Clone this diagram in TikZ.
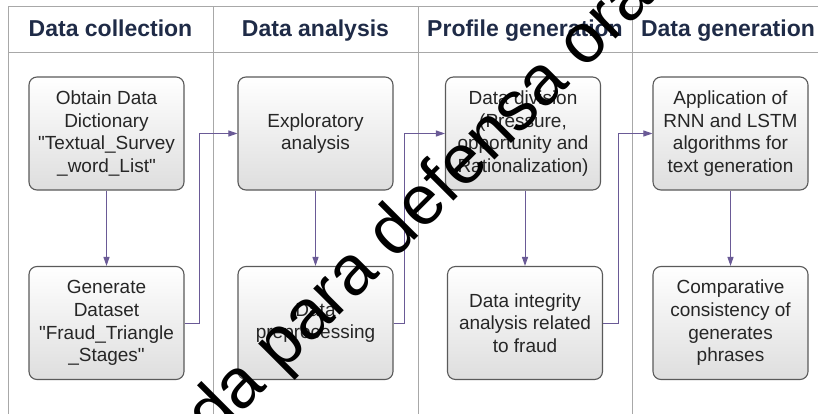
\documentclass[tikz,border=0pt]{standalone}
\usepackage{fontspec}
\setmainfont{Liberation Sans}
\usetikzlibrary{arrows.meta}
\definecolor{gridgray}{HTML}{A8A8A8}
\definecolor{headnavy}{HTML}{1F2B47}
\definecolor{flowpurple}{HTML}{6A5A96}
\definecolor{boxedge}{HTML}{5A5A5A}
\newcommand{\dq}{\textquotedbl}
\tikzset{
  lane/.style={draw=gridgray, line width=1pt},
  head/.style={font=\bfseries\fontsize{23}{26}\selectfont, text=headnavy,
    anchor=base, inner sep=0pt},
  stepbox/.style={draw=boxedge, line width=1.1pt, rounded corners=8pt,
    top color=white, bottom color=black!13, minimum width=155pt,
    minimum height=113pt, align=center, text=black!85,
    font=\fontsize{19}{22.7}\selectfont, inner sep=0pt},
  flow/.style={draw=flowpurple, line width=1pt,
    -{Triangle[length=9pt,width=6pt]}},
  link/.style={draw=flowpurple, line width=1pt,
    -{Triangle[length=9pt,width=6pt]}}
}
\begin{document}
\begin{tikzpicture}[x=1pt,y=-1pt]
\useasboundingbox (0,0) rectangle (818,414);
\fill[white] (0,0) rectangle (818,414);

% swimlane grid
\draw[lane] (8,7) -- (830,7);
\draw[lane] (8,53) -- (830,53);
\foreach \lx in {8,213,418,632}
  \draw[lane] (\lx,7) -- (\lx,420);

% lane titles
\node[head] (h1) at (110.5,37) {Data collection};
\node[head] (h2) at (315.5,37) {Data analysis};
\node[head] (h3) at (525,37) {Profile generation};
\node[head] (h4) at (728,37) {Data generation};

% process steps
\node[stepbox] (obtain) at (106.5,133.5) {Obtain Data\\Dictionary\\\dq Textual\_Survey\\\_word\_List\dq};
\node[stepbox] (generate) at (106.5,323) {Generate\\Dataset\\\dq Fraud\_Triangle\\\_Stages\dq};
\node[stepbox] (explore) at (315.5,133.5) {Exploratory\\analysis};
\node[stepbox] (prep) at (315.5,323) {Data\\preprocessing};
\node[stepbox] (division) at (523,133.5) {Data division\\(Pressure,\\opportunity and\\Rationalization)};
\node[stepbox] (integrity) at (525,323) {Data integrity\\analysis related\\to fraud};
\node[stepbox] (rnn) at (730.5,133.5) {Application of\\RNN and LSTM\\algorithms for\\text generation};
\node[stepbox] (compare) at (730.5,323) {Comparative\\consistency of\\generates\\phrases};

% flow within each lane
\draw[flow] (obtain) -- (generate);
\draw[flow] (explore) -- (prep);
\draw[flow] (division.south -| integrity.north) -- (integrity);
\draw[flow] (rnn) -- (compare);

% flow between lanes
\draw[link] (generate.east) -- ++(15,0) |- (explore.west);
\draw[link] (prep.east) -- ++(11,0) |- (division.west);
\draw[link] (integrity.east) -- ++(15,0) |- (rnn.west);

% stamp across the sheet
\node[rotate=45, anchor=base west, inner sep=0pt, text=black,
  font=\fontsize{70}{70}\selectfont] (stamp) at (213,442) {da para defensa ora};
\end{tikzpicture}
\end{document}
